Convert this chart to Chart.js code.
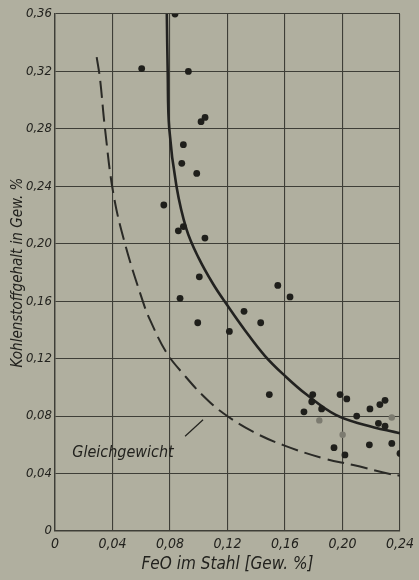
<!DOCTYPE html>
<html>
<head>
<meta charset="utf-8">
<script src="https://cdn.jsdelivr.net/npm/chart.js@4"></script>
<style>
  html, body { margin: 0; padding: 0; background: #b0af9f; }
  #wrap { width: 419px; height: 580px; }
</style>
</head>
<body>
<div id="wrap"><canvas id="myChart" width="419" height="580"></canvas></div>
<script>
// measured points (FeO %, C %)
const pointsX = [0.0835, 0.0603, 0.0928, 0.1016, 0.1044, 0.0893, 0.0882, 0.0986, 0.0757, 0.0858,
  0.0893, 0.1043, 0.1004, 0.0870, 0.0993, 0.1550, 0.1635, 0.1315, 0.1431, 0.1213,
  0.1491, 0.1793, 0.1786, 0.1732, 0.1855, 0.1983, 0.2030, 0.2099, 0.2191, 0.2260,
  0.2296, 0.2250, 0.2296, 0.1941, 0.2017, 0.2187, 0.2343, 0.2400];
const pointsY = [0.360, 0.322, 0.320, 0.285, 0.288, 0.269, 0.256, 0.249, 0.227, 0.209,
  0.212, 0.204, 0.177, 0.162, 0.145, 0.171, 0.163, 0.153, 0.145, 0.139,
  0.095, 0.095, 0.090, 0.083, 0.085, 0.095, 0.092, 0.080, 0.085, 0.088,
  0.091, 0.075, 0.073, 0.058, 0.053, 0.060, 0.061, 0.054];
// faint points
const fadedX = [0.1839, 0.2343, 0.2001];
const fadedY = [0.077, 0.079, 0.067];

// solid curve through the measurements
const curveX = [0.0778, 0.0784, 0.0795, 0.0845, 0.0915, 0.1000, 0.1100, 0.1200, 0.1320, 0.1460, 0.1600, 0.1750, 0.1950, 0.2150, 0.2400];
const curveY = [0.360, 0.320, 0.280, 0.240, 0.210, 0.190, 0.172, 0.157, 0.140, 0.122, 0.108, 0.095, 0.081, 0.074, 0.068];

// dashed equilibrium curve
const eqX = [0.0290, 0.0313, 0.0348, 0.0406, 0.0487, 0.0614, 0.0661, 0.0777, 0.0904, 0.1032, 0.1171, 0.1380, 0.1588, 0.1867, 0.2075, 0.2330, 0.2400];
const eqY = [0.330, 0.315, 0.280, 0.235, 0.200, 0.159, 0.147, 0.124, 0.108, 0.094, 0.082, 0.069, 0.0598, 0.0506, 0.0459, 0.0397, 0.0385];

const xTicks = ["0", "0,04", "0,08", "0,12", "0,16", "0,20", "0,24"];
const yTicks = ["0", "0,04", "0,08", "0,12", "0,16", "0,20", "0,24", "0,28", "0,32", "0,36"];
const xTitle = "FeO im Stahl [Gew. %]";
const yTitle = "Kohlenstoffgehalt in Gew. %";
const eqLabel = "Gleichgewicht";

const ink = "#22221e";
const gridInk = "#3e3e37";
const font = "'DejaVu Sans Condensed', 'Liberation Sans Narrow', 'DejaVu Sans', sans-serif";

function zip(xs, ys) {
  const out = [];
  for (let i = 0; i < xs.length; i++) {
    out.push({ x: xs[i], y: ys[i] });
  }
  return out;
}

const paperPlugin = {
  id: "paper",
  beforeDraw(chart) {
    const c = chart.ctx;
    c.save();
    c.fillStyle = "#b0af9f";
    c.fillRect(0, 0, chart.width, chart.height);
    c.restore();
  },
  afterDatasetsDraw(chart) {
    const c = chart.ctx;
    const xs = chart.scales.x;
    const ys = chart.scales.y;
    c.save();
    c.fillStyle = ink;
    c.font = "oblique 16px " + font;
    c.textBaseline = "middle";
    c.textAlign = "left";
    c.fillText(eqLabel, xs.getPixelForValue(0.012), ys.getPixelForValue(0.0545));
    // leader line to the dashed curve
    c.strokeStyle = ink;
    c.lineWidth = 1.2;
    c.beginPath();
    c.moveTo(xs.getPixelForValue(0.0905), ys.getPixelForValue(0.066));
    c.lineTo(xs.getPixelForValue(0.103), ys.getPixelForValue(0.0775));
    c.stroke();
    c.restore();
  },
};

const ctx = document.getElementById("myChart");

new Chart(ctx, {
  type: "scatter",
  data: {
    datasets: [
      {
        data: zip(pointsX, pointsY),
        backgroundColor: "#1f1f1b",
        borderWidth: 0,
        pointRadius: 3.4,
      },
      {
        data: zip(fadedX, fadedY),
        backgroundColor: "#7c7b70",
        borderWidth: 0,
        pointRadius: 3.2,
      },
      {
        type: "line",
        data: zip(curveX, curveY),
        borderColor: "#222220",
        borderWidth: 2.6,
        pointRadius: 0,
        tension: 0.4,
        fill: false,
      },
      {
        type: "line",
        data: zip(eqX, eqY),
        borderColor: "#2a2a26",
        borderWidth: 2,
        borderDash: [17, 7],
        pointRadius: 0,
        tension: 0.4,
        fill: false,
      },
    ],
  },
  plugins: [paperPlugin],
  options: {
    responsive: false,
    animation: false,
    events: [],
    layout: {
      padding: { left: 0, top: 14, right: 19, bottom: 0 },
    },
    plugins: {
      legend: { display: false },
      tooltip: { enabled: false },
    },
    scales: {
      x: {
        type: "linear",
        min: 0,
        max: 0.24,
        afterFit(scale) {
          scale.height = 49;
        },
        afterBuildTicks(scale) {
          scale.ticks = xTicks.map((t, i) => ({ value: i * 0.04 }));
        },
        ticks: {
          color: ink,
          padding: 5,
          maxRotation: 0,
          autoSkip: false,
          font: { family: font, size: 14, style: "italic" },
          callback: (v, i) => xTicks[i],
        },
        grid: {
          color: gridInk,
          lineWidth: 1.1,
          drawTicks: false,
        },
        border: { color: gridInk, width: 1.4 },
        title: {
          display: true,
          text: xTitle,
          color: ink,
          font: { family: font, size: 17, style: "italic" },
          padding: { top: 0, bottom: 5 },
        },
      },
      y: {
        type: "linear",
        min: 0,
        max: 0.36,
        afterFit(scale) {
          scale.width = 55;
        },
        afterBuildTicks(scale) {
          scale.ticks = yTicks.map((t, i) => ({ value: i * 0.04 }));
        },
        ticks: {
          color: ink,
          padding: 3,
          autoSkip: false,
          font: { family: font, size: 13, style: "italic" },
          callback: (v, i) => yTicks[i],
        },
        grid: {
          color: gridInk,
          lineWidth: 1.1,
          drawTicks: false,
        },
        border: { color: gridInk, width: 1.4 },
        title: {
          display: true,
          text: yTitle,
          color: ink,
          font: { family: font, size: 15, style: "italic" },
          padding: { top: 9, bottom: 0 },
        },
      },
    },
  },
});
</script>
</body>
</html>
